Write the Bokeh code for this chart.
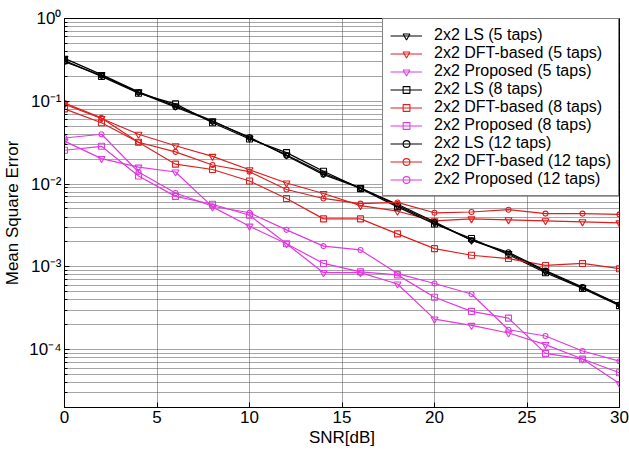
from bokeh.plotting import figure
from bokeh.models import FixedTicker, CustomJSTickFormatter, Range1d, Legend
from bokeh.embed import file_html
from bokeh.resources import INLINE

# ---- data ----
snr = [0, 2, 4, 6, 8, 10, 12, 14, 16, 18, 20, 22, 24, 26, 28, 30]

ls_5 = [0.33, 0.21, 0.13, 0.088, 0.058, 0.036, 0.0225, 0.0135, 0.0090, 0.0055, 0.0034, 0.0021, 0.00145, 0.00088, 0.00056, 0.00035]
dft_5 = [0.092, 0.062, 0.040, 0.029, 0.0216, 0.0149, 0.0103, 0.0077, 0.0055, 0.0047, 0.0036, 0.0038, 0.0037, 0.0036, 0.0035, 0.0034]
prop_5 = [0.033, 0.0203, 0.016, 0.014, 0.0053, 0.0031, 0.0019, 0.00085, 0.00085, 0.00062, 0.000234, 0.000196, 0.000159, 0.000115, 0.000077, 0.000039]

ls_8 = [0.31, 0.20, 0.125, 0.093, 0.055, 0.035, 0.024, 0.0143, 0.0088, 0.0053, 0.0033, 0.0022, 0.0014, 0.00085, 0.00055, 0.00034]
dft_8 = [0.081, 0.055, 0.032, 0.0174, 0.015, 0.0109, 0.0067, 0.0038, 0.0038, 0.0025, 0.00166, 0.00138, 0.00126, 0.00104, 0.0011, 0.00095]
prop_8 = [0.0256, 0.0286, 0.0125, 0.0071, 0.0057, 0.0042, 0.0019, 0.0011, 0.00087, 0.00080, 0.00043, 0.00029, 0.00024, 0.000090, 0.000077, 0.0000525]

ls_12 = [0.30, 0.205, 0.128, 0.085, 0.057, 0.037, 0.022, 0.013, 0.0089, 0.0057, 0.0035, 0.0021, 0.0015, 0.00090, 0.00057, 0.00035]
dft_12 = [0.095, 0.063, 0.032, 0.0245, 0.017, 0.0141, 0.0086, 0.0067, 0.0058, 0.0060, 0.0045, 0.0046, 0.0049, 0.0044, 0.0044, 0.0043]
prop_12 = [0.036, 0.040, 0.014, 0.0078, 0.0054, 0.0045, 0.0028, 0.00178, 0.0016, 0.00083, 0.00063, 0.00047, 0.000174, 0.000146, 0.0000962, 0.0000725]

x_ticks = [0, 5, 10, 15, 20, 25, 30]
y_decades = [-5, -4, -3, -2, -1, 0]

BLACK = "#000000"
RED = "#e01e1e"
MAGENTA = "#e03ae0"
FONT = "Liberation Sans"

series = [
    ("2x2 LS (5 taps)", ls_5, BLACK, "inverted_triangle", 7),
    ("2x2 DFT-based (5 taps)", dft_5, RED, "inverted_triangle", 7),
    ("2x2 Proposed (5 taps)", prop_5, MAGENTA, "inverted_triangle", 7),
    ("2x2 LS (8 taps)", ls_8, BLACK, "square", 6),
    ("2x2 DFT-based (8 taps)", dft_8, RED, "square", 6),
    ("2x2 Proposed (8 taps)", prop_8, MAGENTA, "square", 6),
    ("2x2 LS (12 taps)", ls_12, BLACK, "circle", 5),
    ("2x2 DFT-based (12 taps)", dft_12, RED, "circle", 5),
    ("2x2 Proposed (12 taps)", prop_12, MAGENTA, "circle", 5),
]

p = figure(width=629, height=453, y_axis_type="log",
           x_range=Range1d(0, 30), y_range=Range1d(2e-5, 1),
           output_backend="svg", toolbar_location=None,
           min_border_left=63, min_border_right=10,
           min_border_top=18, min_border_bottom=46)
p.background_fill_color = "white"
p.border_fill_color = "white"
p.outline_line_color = "black"
p.outline_line_width = 1

legend_items = []
for label, vals, color, marker, size in series:
    r1 = p.line(snr, vals, line_color=color, line_width=1.2)
    r2 = p.scatter(snr, vals, marker=marker, size=size, line_color=color,
                   fill_color=None, line_width=1.1)
    legend_items.append((label, [r1, r2]))

# axes
minor = [k * 10.0 ** d for d in y_decades[:-1] for k in range(2, 10)]
p.xaxis.ticker = FixedTicker(ticks=x_ticks)
p.yaxis.ticker = FixedTicker(ticks=[10.0 ** d for d in y_decades], minor_ticks=minor)
p.yaxis.formatter = CustomJSTickFormatter(code="""
const e = Math.round(Math.log10(tick));
const sup = {'-':'\u207b','0':'\u2070','1':'\u00b9','2':'\u00b2','3':'\u00b3','4':'\u2074','5':'\u2075'};
return '10' + String(e).split('').map(c => sup[c]).join('');
""")

for ax in (p.xaxis, p.yaxis):
    ax.major_label_text_font = FONT
    ax.major_label_text_font_size = "17px"
    ax.major_label_text_color = "black"
    ax.axis_label_text_font = FONT
    ax.axis_label_text_font_size = "17px"
    ax.axis_label_text_font_style = "normal"
    ax.axis_label_text_color = "black"
    ax.axis_line_color = "black"
    ax.major_tick_in = 5
    ax.major_tick_out = 0
    ax.minor_tick_in = 3
    ax.minor_tick_out = 0
    ax.major_tick_line_color = "black"
    ax.minor_tick_line_color = "black"

p.xaxis.axis_label = "SNR[dB]"
p.yaxis.axis_label = "Mean Square Error"
p.xaxis.major_label_standoff = 3
p.xaxis.axis_label_standoff = 2
p.yaxis.major_label_standoff = 3
p.yaxis.axis_label_standoff = 4

# grid
GRID = "#4a4a4a"
p.xgrid.grid_line_color = GRID
p.xgrid.grid_line_dash = "1 1"
p.xgrid.grid_line_width = 1
p.ygrid.grid_line_color = GRID
p.ygrid.grid_line_dash = "1 1"
p.ygrid.minor_grid_line_color = GRID
p.ygrid.minor_grid_line_dash = "1 1"

legend = Legend(items=legend_items, location="top_right")
legend.margin = 0
legend.padding = 7
legend.spacing = 0
legend.label_height = 17
legend.glyph_height = 17
legend.glyph_width = 32
legend.label_standoff = 12
legend.label_text_font = FONT
legend.label_text_font_size = "16px"
legend.label_text_color = "black"
legend.border_line_color = "black"
legend.border_line_width = 1
legend.background_fill_color = "white"
legend.background_fill_alpha = 1.0
p.add_layout(legend)

open("out.html", "w").write(file_html(p, INLINE))
